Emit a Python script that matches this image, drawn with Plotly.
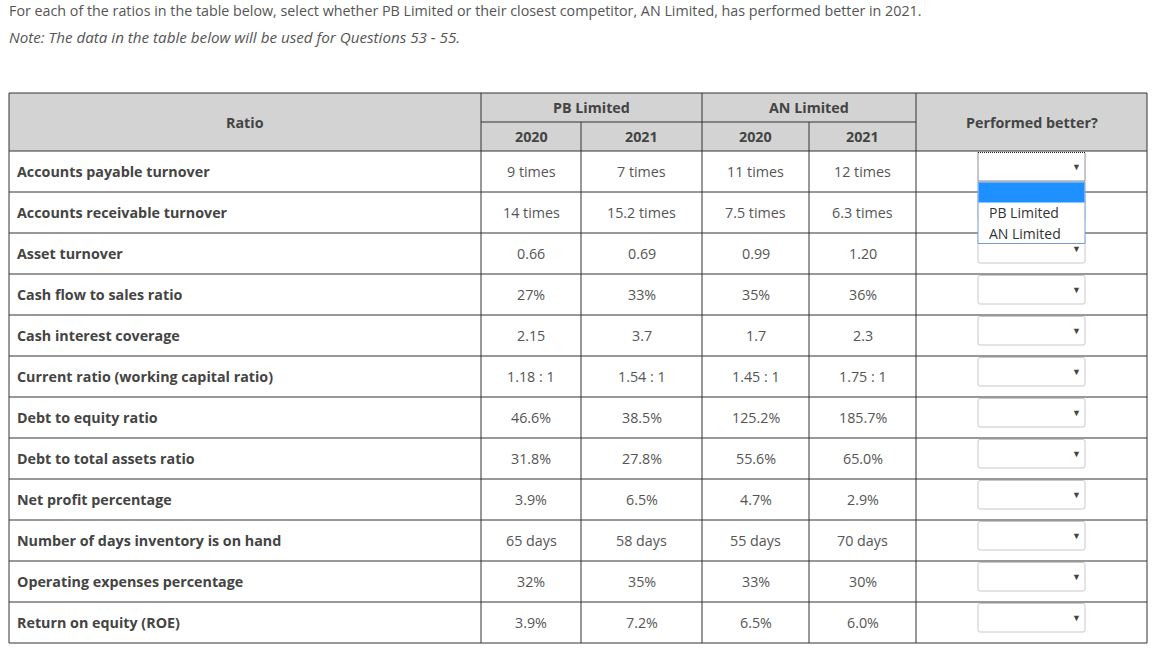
import plotly.graph_objects as go

# ---------------- data ----------------
title_text = "For each of the ratios in the table below, select whether PB Limited or their closest competitor, AN Limited, has performed better in 2021."
note_text = "Note: The data in the table below will be used for Questions 53 - 55."

ratios = [
    "Accounts payable turnover",
    "Accounts receivable turnover",
    "Asset turnover",
    "Cash flow to sales ratio",
    "Cash interest coverage",
    "Current ratio (working capital ratio)",
    "Debt to equity ratio",
    "Debt to total assets ratio",
    "Net profit percentage",
    "Number of days inventory is on hand",
    "Operating expenses percentage",
    "Return on equity (ROE)",
]
pb_2020 = ["9 times", "14 times", "0.66", "27%", "2.15", "1.18 : 1", "46.6%", "31.8%", "3.9%", "65 days", "32%", "3.9%"]
pb_2021 = ["7 times", "15.2 times", "0.69", "33%", "3.7", "1.54 : 1", "38.5%", "27.8%", "6.5%", "58 days", "35%", "7.2%"]
an_2020 = ["11 times", "7.5 times", "0.99", "35%", "1.7", "1.45 : 1", "125.2%", "55.6%", "4.7%", "55 days", "33%", "6.5%"]
an_2021 = ["12 times", "6.3 times", "1.20", "36%", "2.3", "1.75 : 1", "185.7%", "65.0%", "2.9%", "70 days", "30%", "6.0%"]
companies = ["PB Limited", "AN Limited"]
years = ["2020", "2021"]
header_ratio = "Ratio"
header_better = "Performed better?"
dropdown_options = ["", "PB Limited", "AN Limited"]
open_row = 0

# ---------------- layout geometry ----------------
W, H = 1152, 650
col_x = [9, 481, 581, 702, 809, 916, 1147]
top = 93
mid = 122
body_top = 151
row_h = 41
n = len(ratios)
bottom = body_top + row_h * n

FONT = "Open Sans"
FS = 14.3
LABEL_C = "#444444"
VAL_C = "#555555"
LINE_C = "#333333"
HEAD_BG = "#d3d3d3"

shapes = []
ann = []

def rect(x0, y0, x1, y1, fill=None, line=None, width=1, dash=None):
    d = dict(type="rect", xref="x", yref="y", x0=x0, y0=y0, x1=x1, y1=y1,
             layer="above", line=dict(width=width if line else 0, color=line or "rgba(0,0,0,0)"))
    if dash:
        d["line"]["dash"] = dash
    if fill:
        d["fillcolor"] = fill
    shapes.append(d)

def hline(x0, x1, y, color=LINE_C, width=1):
    shapes.append(dict(type="line", xref="x", yref="y", x0=x0, x1=x1, y0=y, y1=y,
                       layer="above", line=dict(color=color, width=width)))

def vline(x, y0, y1, color=LINE_C, width=1):
    shapes.append(dict(type="line", xref="x", yref="y", x0=x, x1=x, y0=y0, y1=y1,
                       layer="above", line=dict(color=color, width=width)))

def text(x, y, s, size=FS, color=VAL_C, anchor="center", bold=False, italic=False):
    if bold:
        s = "<b>" + s + "</b>"
    if italic:
        s = "<i>" + s + "</i>"
    ann.append(dict(x=x, y=y, xref="x", yref="y", text=s, showarrow=False,
                    xanchor=anchor, yanchor="middle",
                    font=dict(family=FONT, size=size, color=color)))

# intro text
text(7, 10, title_text, color="#555555", anchor="left")
text(7, 37, note_text, size=15.2, color="#555555", anchor="left", italic=True)

# header background
rect(col_x[0], top, col_x[-1], body_top, fill=HEAD_BG)

# grid lines
hline(col_x[1], col_x[5], mid)
for i in range(n + 1):
    hline(col_x[0], col_x[-1], body_top + i * row_h)
hline(col_x[0], col_x[-1], top)
for x in [col_x[0], col_x[1], col_x[3], col_x[5], col_x[6]]:
    vline(x, top, bottom)
for x in [col_x[2], col_x[4]]:
    vline(x, mid, bottom)

# header text
text((col_x[0] + col_x[1]) / 2, (top + body_top) / 2, header_ratio, bold=True, color=LABEL_C)
text((col_x[5] + col_x[6]) / 2, (top + body_top) / 2, header_better, bold=True, color=LABEL_C)
for k, comp in enumerate(companies):
    cx = (col_x[1 + 2 * k] + col_x[3 + 2 * k]) / 2
    text(cx, (top + mid) / 2, comp, bold=True, color=LABEL_C)
    for j, yr in enumerate(years):
        c0 = col_x[1 + 2 * k + j]
        c1 = col_x[2 + 2 * k + j]
        text((c0 + c1) / 2, (mid + body_top) / 2, yr, bold=True, color=LABEL_C)

# body
value_cols = [pb_2020, pb_2021, an_2020, an_2021]
for i, r in enumerate(ratios):
    yc = body_top + i * row_h + row_h / 2
    text(15, yc, r, bold=True, color=LABEL_C, anchor="left")
    for j, vals in enumerate(value_cols):
        text((col_x[1 + j] + col_x[2 + j]) / 2, yc, vals[i], color=VAL_C)

# dropdowns
dd_w = 107
dd_cx = (col_x[5] + col_x[6]) / 2
dd_x0 = dd_cx - dd_w / 2
dd_x1 = dd_cx + dd_w / 2
list_top = body_top + open_row * row_h + 31
list_item_h = 20.5
list_bottom = list_top + list_item_h * len(dropdown_options)
for i in range(n):
    y0 = body_top + i * row_h + 1.5
    y1 = body_top + i * row_h + 30
    if i == open_row:
        rect(dd_x0, y0, dd_x1, y1, fill="white", line="#222222", dash="1px,1px")
    else:
        shapes.append(dict(type="path", xref="x", yref="y", layer="above",
                           path=(f"M {dd_x0+2},{y0} L {dd_x1-2},{y0} Q {dd_x1},{y0} {dd_x1},{y0+2} "
                                 f"L {dd_x1},{y1-2} Q {dd_x1},{y1} {dd_x1-2},{y1} L {dd_x0+2},{y1} "
                                 f"Q {dd_x0},{y1} {dd_x0},{y1-2} L {dd_x0},{y0+2} Q {dd_x0},{y0} {dd_x0+2},{y0} Z"),
                           fillcolor="white", line=dict(color="#c8c8c8", width=1)))
    arrow_y = (y0 + y1) / 2
    if not (list_top - 2 < arrow_y < list_bottom + 2):
        text(dd_x1 - 9, arrow_y, "▼", size=9, color="#444444")

# open dropdown list
rect(dd_x0, list_top, dd_x1, list_bottom, fill="white", line="#7a9cd3")
rect(dd_x0 + 0.5, list_top + 0.5, dd_x1 - 0.5, list_top + list_item_h, fill="#1e90ff")
for k, opt in enumerate(dropdown_options):
    if opt:
        text(dd_x0 + 9, list_top + list_item_h * k + list_item_h / 2, opt,
             size=14, color="#333333", anchor="left")

fig = go.Figure()
fig.update_layout(
    width=W, height=H,
    margin=dict(l=0, r=0, t=0, b=0),
    paper_bgcolor="white", plot_bgcolor="white",
    xaxis=dict(range=[0, W], visible=False, fixedrange=True),
    yaxis=dict(range=[H, 0], visible=False, fixedrange=True),
    shapes=shapes, annotations=ann, showlegend=False,
)
fig.write_html("out.html", config={"displayModeBar": False},
               post_script="document.body.style.margin='0px';document.body.style.overflow='hidden';")
